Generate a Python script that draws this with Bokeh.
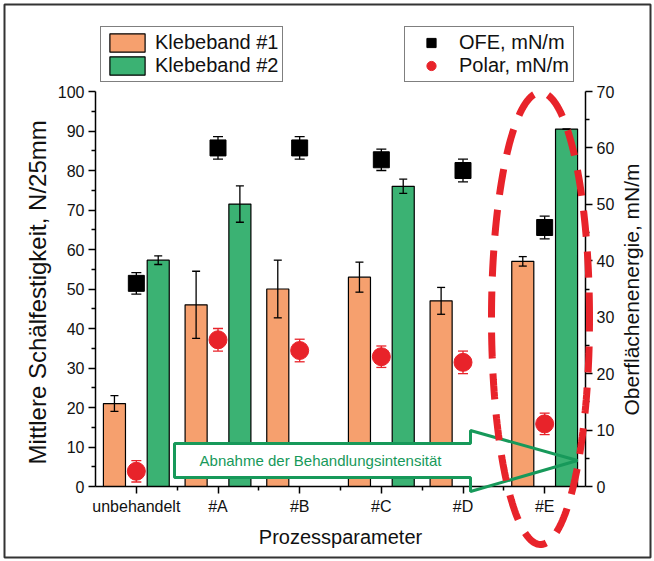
import numpy as np
from bokeh.plotting import figure
from bokeh.models import (ColumnDataSource, Range1d, LinearAxis, FixedTicker, Whisker, TeeHead,
                          Legend, LegendItem, PolyAnnotation, BoxAnnotation, Label)
from bokeh.embed import file_html
from bokeh.resources import INLINE

# ---------------- data ----------------
categories = ["unbehandelt", "#A", "#B", "#C", "#D", "#E"]
tape1 = [21.0, 46.0, 50.0, 53.0, 47.0, 57.0]           # Klebeband #1, N/25mm
tape1_err = [2.0, 8.5, 7.3, 3.8, 3.4, 1.2]
tape2 = [57.3, 71.5, None, 76.0, None, 90.5]           # Klebeband #2, N/25mm
tape2_err = [1.1, 4.6, None, 1.8, None, 0.0]
ofe = [36.0, 60.0, 60.0, 57.9, 56.0, 45.9]             # OFE, mN/m (right axis)
ofe_err = [1.9, 2.0, 2.0, 1.9, 2.0, 2.0]
polar = [2.7, 26.0, 24.1, 23.0, 22.0, 11.1]            # Polar, mN/m (right axis)
polar_err = [1.9, 2.0, 2.0, 1.9, 2.0, 1.9]

left_ticks = list(range(0, 101, 10))
right_ticks = list(range(0, 71, 10))

# ---------------- styles / layout ----------------
FONT = "Liberation Sans"
ORANGE = "#F6A06E"
GREEN = "#3BB273"
RED = "#E8232A"
ARROW_GREEN = "#17995A"
BAR_W = 0.27
OFF = 0.268

W, H = 652, 559                 # canvas = frame
AX_L, AX_T, AX_W, AX_H = 95, 91, 490, 395   # axes box inside canvas (pixels)
n = len(categories)
px_x = AX_W / n                 # pixels per category
px_y = AX_H / 100.0             # pixels per left-axis unit
x_start = 0.5 - AX_L / px_x
x_end = x_start + W / px_x
y_end = 100 + AX_T / px_y
y_start = y_end - H / px_y
R = 70 / 100.0                  # right / left scale ratio


def dx(px):   # canvas pixel -> x data (for annotations)
    return x_start + px / px_x


def dy(py):   # canvas pixel -> left y data (for annotations)
    return y_end - py / px_y


pos = np.arange(1, n + 1, dtype=float)

p = figure(frame_width=W, frame_height=H,
           x_range=Range1d(x_start, x_end), y_range=Range1d(y_start, y_end),
           output_backend="svg", toolbar_location=None, min_border=0,
           background_fill_color="white", border_fill_color="white")
p.outline_line_color = None
p.xgrid.visible = False
p.ygrid.visible = False
p.extra_y_ranges = {"right": Range1d(y_start * R, y_end * R)}

# bars
src1 = ColumnDataSource(dict(x=pos - OFF, top=tape1,
                             lo=[v - e for v, e in zip(tape1, tape1_err)],
                             hi=[v + e for v, e in zip(tape1, tape1_err)]))
idx2 = [i for i, v in enumerate(tape2) if v is not None]
src2 = ColumnDataSource(dict(x=[pos[i] + OFF for i in idx2], top=[tape2[i] for i in idx2],
                             lo=[tape2[i] - tape2_err[i] for i in idx2],
                             hi=[tape2[i] + tape2_err[i] for i in idx2]))
r1 = p.vbar(x="x", top="top", bottom=0, width=BAR_W, source=src1, fill_color=ORANGE,
            line_color="black", line_width=1.2)
r2 = p.vbar(x="x", top="top", bottom=0, width=BAR_W, source=src2, fill_color=GREEN,
            line_color="black", line_width=1.2)

for s in (src1, src2):
    w = Whisker(source=s, base="x", upper="hi", lower="lo", dimension="height",
                line_color="black", line_width=1.3, level="annotation",
                upper_head=TeeHead(size=8, line_color="black", line_width=1.3),
                lower_head=TeeHead(size=8, line_color="black", line_width=1.3))
    p.add_layout(w)

# scatter series on right axis
src_ofe = ColumnDataSource(dict(x=pos, y=ofe,
                                lo=[v - e for v, e in zip(ofe, ofe_err)],
                                hi=[v + e for v, e in zip(ofe, ofe_err)]))
src_pol = ColumnDataSource(dict(x=pos, y=polar,
                                lo=[v - e for v, e in zip(polar, polar_err)],
                                hi=[v + e for v, e in zip(polar, polar_err)]))
for s, col in ((src_ofe, "black"), (src_pol, RED)):
    w = Whisker(source=s, base="x", upper="hi", lower="lo", dimension="height",
                y_range_name="right", line_color=col, line_width=1.3,
                upper_head=TeeHead(size=10, line_color=col, line_width=1.3),
                lower_head=TeeHead(size=10, line_color=col, line_width=1.3))
    p.add_layout(w)
r3 = p.scatter(x="x", y="y", source=src_ofe, marker="square", size=16,
               fill_color="black", line_color="black", y_range_name="right")
r4 = p.scatter(x="x", y="y", source=src_pol, marker="circle", size=18,
               fill_color=RED, line_color=RED, y_range_name="right")

# axes (pinned at the data box edges, drawn inside the full-canvas frame)
p.xaxis.ticker = FixedTicker(ticks=list(pos), minor_ticks=list(pos[:-1] + 0.5))
p.xaxis.major_label_overrides = {float(x): c for x, c in zip(pos, categories)}
p.xaxis.major_label_overrides.update({int(x): c for x, c in zip(pos, categories)})
p.xaxis.axis_label = "Prozessparameter"
p.xaxis.fixed_location = 0
p.xaxis.bounds = (0.5, n + 0.5)
p.yaxis.ticker = FixedTicker(ticks=left_ticks, minor_ticks=list(range(5, 100, 10)))
p.yaxis.axis_label = "Mittlere Schälfestigkeit,  N/25mm"
p.yaxis.fixed_location = 0.5
p.yaxis.bounds = (0, 100)

ax_r = LinearAxis(y_range_name="right",
                  ticker=FixedTicker(ticks=right_ticks, minor_ticks=list(range(5, 70, 10))),
                  fixed_location=n + 0.5, bounds=(0, 70))
p.add_layout(ax_r, "right")

for ax in p.xaxis + p.yaxis + [ax_r]:
    ax.axis_line_color = "black"
    ax.axis_line_width = 1.5
    ax.major_tick_line_color = "black"
    ax.major_tick_line_width = 1.5
    ax.minor_tick_line_color = "black"
    ax.minor_tick_line_width = 1.5
    ax.major_tick_out = 7
    ax.major_tick_in = 0
    ax.minor_tick_out = 4
    ax.minor_tick_in = 0
    ax.major_label_text_font = FONT
    ax.major_label_text_font_size = "16px"
    ax.major_label_text_color = "#111111"
    ax.axis_label_text_font = FONT
    ax.axis_label_text_font_style = "normal"
    ax.axis_label_text_color = "#111111"
    ax.major_label_standoff = 4
    ax.axis_label_standoff = 8
p.xaxis.axis_label_text_font_size = "20px"
p.yaxis.axis_label_text_font_size = "24px"
p.yaxis.axis_label_standoff = 4

# right axis title, reading bottom-to-top like the left one
p.add_layout(Label(x=dx(631), y=dy(289), text="Oberflächenenergie, mN/m", angle=np.pi / 2,
                   text_align="center", text_baseline="middle", text_font=FONT,
                   text_font_size="21px", text_color="#111111"))

# arrow "Abnahme der Behandlungsintensität"
ax0, ax1, ax2 = dx(174), dx(470), dx(577)          # body left, head base, tip
b_lo, b_hi, h_lo, h_hi, tip_y = dy(477), dy(443), dy(491), dy(430), dy(460)
body = PolyAnnotation(xs=[ax0, ax1, ax1, ax0], ys=[b_lo, b_lo, b_hi, b_hi],
                      fill_color="white", fill_alpha=1.0, line_color=None, line_alpha=0)
p.add_layout(body)
arrow = PolyAnnotation(xs=[ax0, ax1, ax1, ax2, ax1, ax1, ax0],
                       ys=[b_lo, b_lo, h_lo, tip_y, h_hi, b_hi, b_hi],
                       fill_color=None, fill_alpha=0, line_color=ARROW_GREEN,
                       line_alpha=1.0, line_width=3)
p.add_layout(arrow)
p.add_layout(Label(x=dx(320), y=tip_y, text="Abnahme der Behandlungsintensität",
                   text_align="center", text_baseline="middle", text_font=FONT,
                   text_font_size="15px", text_color=ARROW_GREEN))

# dashed red ellipse around #E
t = np.linspace(0, 2 * np.pi, 240)
ecx, ecy, ea, eb = dx(540), dy(318), 49 / px_x, 226 / px_y
ell = PolyAnnotation(xs=list(ecx + ea * np.cos(t)), ys=list(ecy + eb * np.sin(t)),
                     fill_color=None, fill_alpha=0, line_color=RED, line_alpha=1.0,
                     line_width=7, line_dash="26 15")
p.add_layout(ell)

# legends (screen position from frame bottom-left)
leg_kw = dict(border_line_color="black", border_line_width=1.5, background_fill_color="white",
              background_fill_alpha=1.0, label_text_font=FONT, label_text_font_size="20px",
              label_text_color="#111111", glyph_width=44, glyph_height=23, label_height=23,
              spacing=0, padding=4, margin=0, label_standoff=6)
leg1 = Legend(items=[LegendItem(label="Klebeband #1", renderers=[r1]),
                     LegendItem(label="Klebeband #2", renderers=[r2])],
              location=(100, H - 82), **leg_kw)
leg2 = Legend(items=[LegendItem(label="OFE, mN/m", renderers=[r3]),
                     LegendItem(label="Polar, mN/m", renderers=[r4])],
              location=(404, H - 82), **leg_kw)
p.add_layout(leg1)
p.add_layout(leg2)

# outer frame of the picture
p.add_layout(BoxAnnotation(left=dx(4), right=dx(650), top=dy(4), bottom=dy(557),
                           fill_color=None, fill_alpha=0, line_color="#333333",
                           line_alpha=1.0, line_width=2, level="underlay"))

open("out.html", "w").write(file_html(p, INLINE))
